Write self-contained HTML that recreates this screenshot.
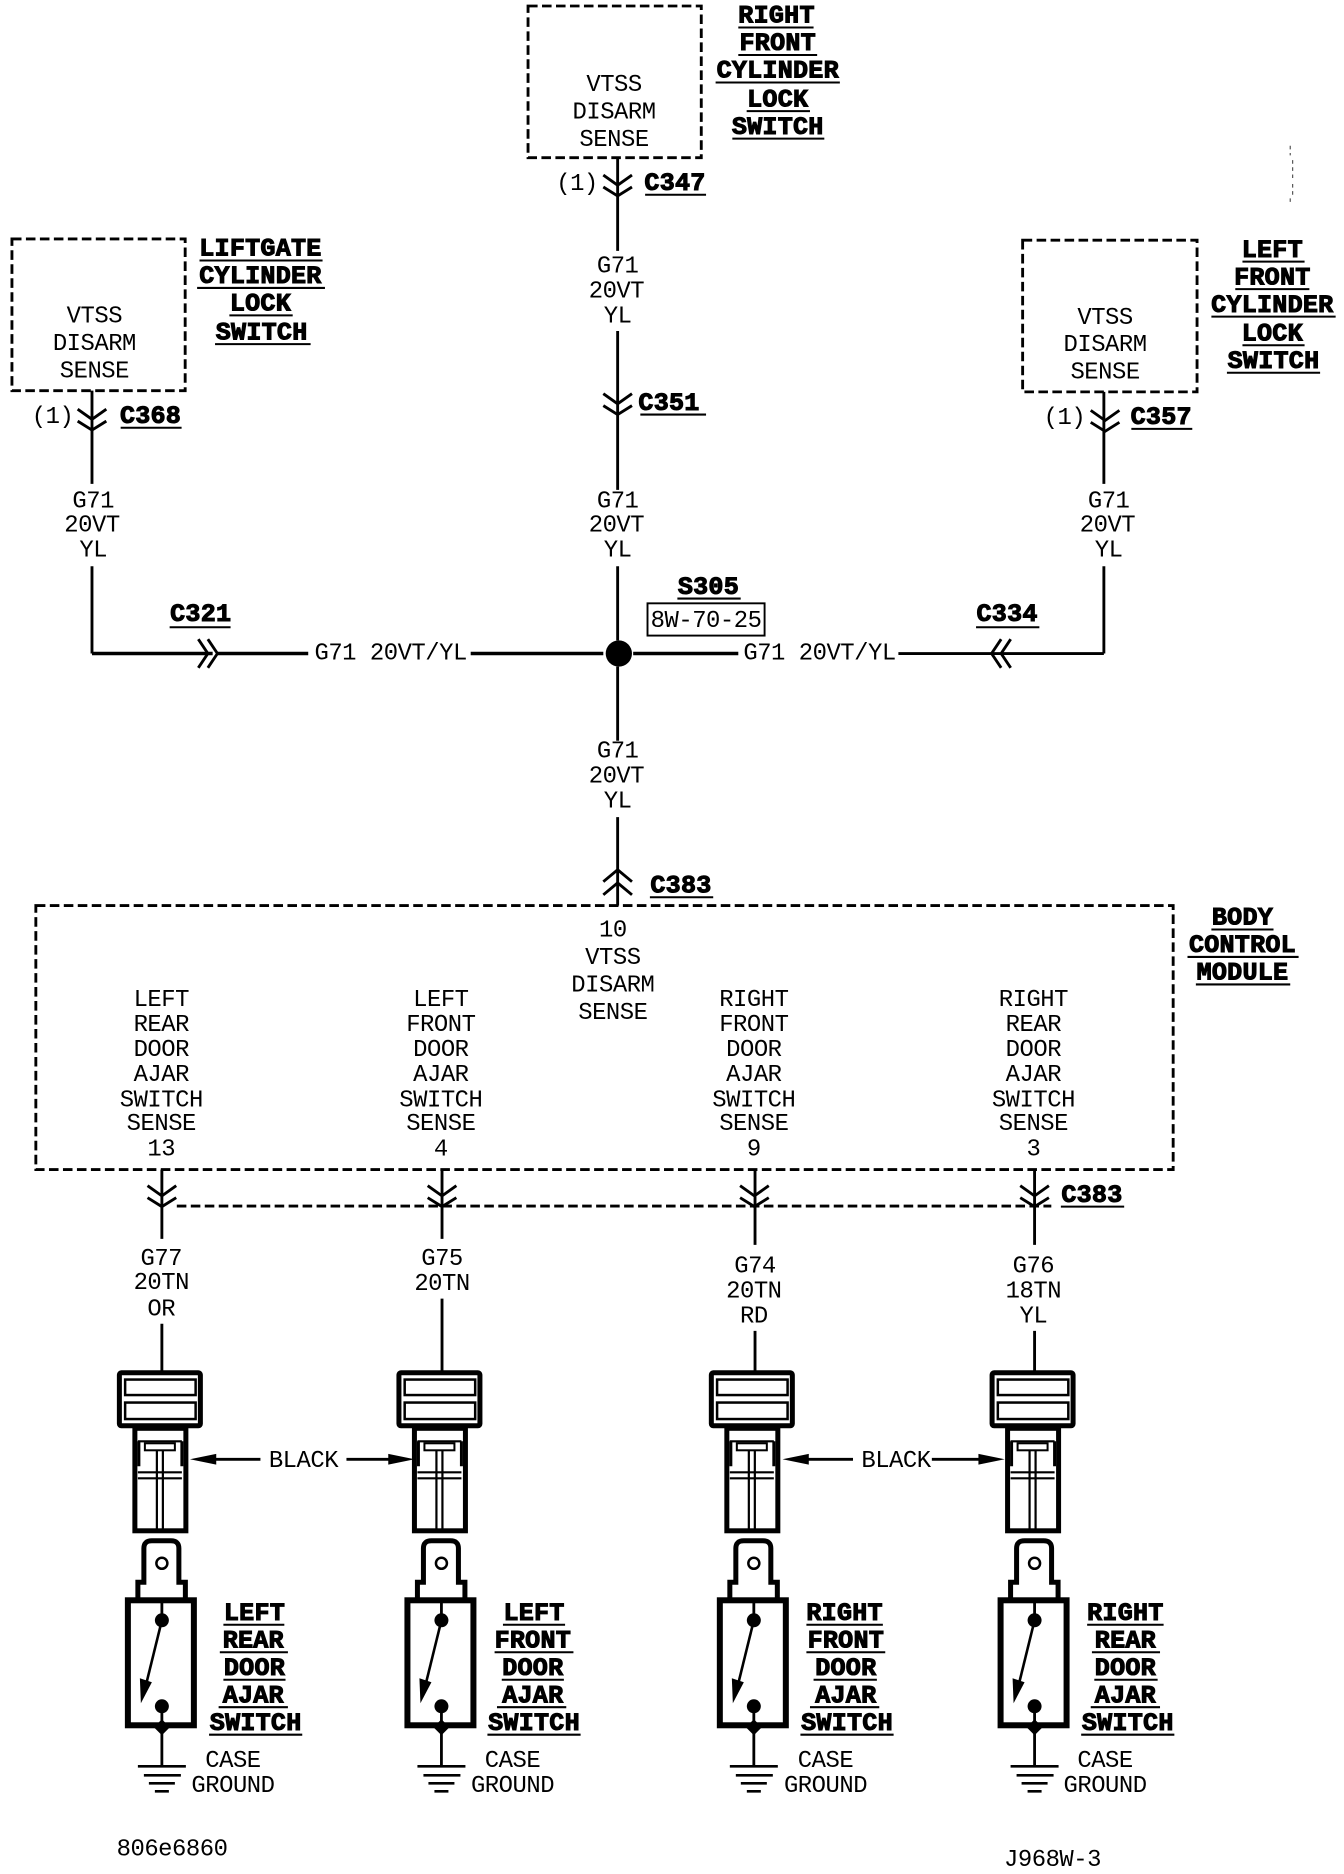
<!DOCTYPE html>
<html><head><meta charset="utf-8"><style>
html,body{margin:0;padding:0;background:#fff}
svg{display:block}
text{fill:#000;text-anchor:middle}
.t{font:20px "Liberation Mono",monospace;letter-spacing:-.4px}
.b{font:bold 21px "Liberation Mono",monospace;stroke:#000;stroke-width:.9px;letter-spacing:.2px}
.w{stroke:#000;stroke-width:2.4;fill:none}
.h{stroke:#000;stroke-width:3;fill:none}
.c{stroke:#000;stroke-width:2.4;fill:none}
.u{stroke:#000;stroke-width:1.7;fill:none}
.d{stroke:#000;stroke-width:2.4;fill:none;stroke-dasharray:8 3.7}
</style></head><body>
<svg width="1344" height="1874" viewBox="0 0 1125 1568.6" xmlns="http://www.w3.org/2000/svg">
<defs>
<g id="chev"><path d="M-12 -7.5L0 1L12 -7.5M-12 2.5L0 10L12 2.5" class="c"/></g>
<g id="conn" transform="scale(.837)">
<rect x="-42.5" y="2.5" width="81" height="53" rx="2" fill="#fff" stroke="#000" stroke-width="5"/>
<rect x="-36.75" y="9.25" width="70.5" height="15.5" fill="#fff" stroke="#000" stroke-width="2.5"/>
<rect x="-36.75" y="32.25" width="70.5" height="16.5" fill="#fff" stroke="#000" stroke-width="2.5"/>
<rect x="-27" y="58" width="51" height="102.5" fill="#fff" stroke="#000" stroke-width="5"/>
<path d="M-24 71H20M-24 102H20M-24 108H20" fill="none" stroke="#000" stroke-width="2.2"/>
<rect x="-17" y="73" width="30" height="7" fill="#fff" stroke="#000" stroke-width="2"/>
<path d="M-5 80V160M1 80V160" fill="none" stroke="#000" stroke-width="2.2"/>
<path d="M-23 71V96M20 71V96" fill="none" stroke="#000" stroke-width="3"/>
<path d="M-24 228V212H-18V178Q-18 170.5 -10 170.5H9Q17 170.5 17 178V212H23.5V228" fill="#fff" stroke="#000" stroke-width="5"/>
<circle cx="0" cy="193" r="5.5" fill="#fff" stroke="#000" stroke-width="2.5"/>
<rect x="-34" y="230" width="66" height="125" fill="#fff" stroke="#000" stroke-width="6"/>
<path d="M0 230V250M0 336V395" fill="none" stroke="#000" stroke-width="2.8"/>
<circle cx="0" cy="250" r="7" fill="#000"/>
<circle cx="0" cy="336" r="7" fill="#000"/>
<path d="M0 357l-8 -8l8 -8l8 8l-8 8z" fill="#000" transform="translate(0,8)"/>
<path d="M0 250L-16 315" fill="none" stroke="#000" stroke-width="2.6"/>
<path d="M-21 333L-22 308L-10 312Z" fill="#000"/>
<path d="M-24 396H24M-18 405H19M-13 413H13M-7 421H7" stroke="#000" stroke-width="2.6" fill="none"/>
</g>
</defs>

<!-- boxes -->
<rect x="442" y="5" width="145" height="127" class="d"/>
<rect x="10" y="200" width="145" height="127" class="d"/>
<rect x="856" y="201" width="146" height="127" class="d"/>
<rect x="30" y="758" width="952" height="221" class="d"/>

<!-- upper text -->
<text class="t" x="514" y="76">VTSS</text><text class="t" x="514" y="99">DISARM</text><text class="t" x="514" y="122">SENSE</text>
<text class="t" x="79" y="270">VTSS</text><text class="t" x="79" y="293">DISARM</text><text class="t" x="79" y="316">SENSE</text>
<text class="t" x="925" y="271">VTSS</text><text class="t" x="925" y="294">DISARM</text><text class="t" x="925" y="317">SENSE</text>

<text class="b" x="650" y="19">RIGHT</text><text class="b" x="651" y="42">FRONT</text><text class="b" x="651" y="65">CYLINDER</text><text class="b" x="651" y="89">LOCK</text><text class="b" x="651" y="112">SWITCH</text>
<path class="u" d="M618 23H681M618 46H684M599 69H703M625 93H678M613 116H690"/>
<text class="b" x="218" y="214">LIFTGATE</text><text class="b" x="218" y="237">CYLINDER</text><text class="b" x="218" y="260">LOCK</text><text class="b" x="219" y="284">SWITCH</text>
<path class="u" d="M167 218H270M165 241H272M192 264H245M180 288H260"/>
<text class="b" x="1065" y="215">LEFT</text><text class="b" x="1065" y="238">FRONT</text><text class="b" x="1065" y="261">CYLINDER</text><text class="b" x="1065" y="285">LOCK</text><text class="b" x="1066" y="308">SWITCH</text>
<path class="u" d="M1040 219H1092M1034 242H1096M1014 265H1118M1040 289H1092M1027 312H1105"/>

<!-- central wire -->
<path class="w" d="M517 132V210M517 277V410M517 474V536M517 558V620M517 684V758"/>
<use href="#chev" x="517" y="154"/>
<use href="#chev" x="517" y="337"/>
<text class="t" x="483" y="159">(1)</text>
<text class="b" x="565" y="159">C347</text><path class="u" d="M540 163H591"/>
<text class="b" x="560" y="343">C351</text><path class="u" d="M536 347H591"/>
<text class="t" x="517" y="228">G71</text><text class="t" x="516" y="249">20VT</text><text class="t" x="517" y="270">YL</text>
<text class="t" x="517" y="425">G71</text><text class="t" x="516" y="445">20VT</text><text class="t" x="517" y="466">YL</text>

<!-- left wire -->
<path class="w" d="M77 327V405M77 474V547"/>
<use href="#chev" x="77" y="350"/>
<text class="t" x="44" y="354">(1)</text>
<text class="b" x="126" y="354">C368</text><path class="u" d="M101 358H152"/>
<text class="t" x="78" y="425">G71</text><text class="t" x="77" y="445">20VT</text><text class="t" x="78" y="466">YL</text>

<!-- right wire -->
<path class="w" d="M924 328V405M924 474V547"/>
<use href="#chev" x="925" y="351"/>
<text class="t" x="891" y="355">(1)</text>
<text class="b" x="972" y="355">C357</text><path class="u" d="M947 359H998"/>
<text class="t" x="928" y="425">G71</text><text class="t" x="927" y="445">20VT</text><text class="t" x="928" y="466">YL</text>

<!-- horizontal -->
<path class="h" d="M77 547H178M182 547H258M394 547H505M530 547H618"/>
<path class="w" d="M752 547H924"/>
<path class="c" d="M166 535L174 547L166 559M174 535L182 547L174 559"/>
<path class="c" d="M838 535L830 547L838 559M846 535L838 547L846 559"/>
<text class="t" x="327" y="552" xml:space="preserve">G71 20VT/YL</text>
<text class="t" x="686" y="552" xml:space="preserve">G71 20VT/YL</text>
<ellipse cx="518" cy="547" rx="11" ry="11" fill="#000"/>
<text class="b" x="168" y="520">C321</text><path class="u" d="M142 525H193"/>
<text class="b" x="843" y="520">C334</text><path class="u" d="M817 525H870"/>
<text class="b" x="593" y="497">S305</text><path class="u" d="M567 501H620"/>
<rect x="542" y="505" width="98" height="27" fill="#fff" stroke="#000" stroke-width="1.6"/>
<text class="t" x="591" y="525">8W-70-25</text>

<text class="t" x="517" y="634">G71</text><text class="t" x="516" y="655">20VT</text><text class="t" x="517" y="676">YL</text>
<path class="c" d="M505 738L517 728L529 738M505 749L517 739L529 749"/>
<text class="b" x="570" y="747">C383</text><path class="u" d="M544 751H597"/>

<!-- BCM text -->
<g transform="translate(0,1)">
<text class="t" x="513" y="783">10</text><text class="t" x="513" y="806">VTSS</text><text class="t" x="513" y="829">DISARM</text><text class="t" x="513" y="852">SENSE</text>
<text class="t" x="135" y="841">LEFT</text><text class="t" x="135" y="862">REAR</text><text class="t" x="135" y="883">DOOR</text><text class="t" x="135" y="904">AJAR</text><text class="t" x="135" y="925">SWITCH</text><text class="t" x="135" y="945">SENSE</text><text class="t" x="135" y="966">13</text>
<text class="t" x="369" y="841">LEFT</text><text class="t" x="369" y="862">FRONT</text><text class="t" x="369" y="883">DOOR</text><text class="t" x="369" y="904">AJAR</text><text class="t" x="369" y="925">SWITCH</text><text class="t" x="369" y="945">SENSE</text><text class="t" x="369" y="966">4</text>
<text class="t" x="631" y="841">RIGHT</text><text class="t" x="631" y="862">FRONT</text><text class="t" x="631" y="883">DOOR</text><text class="t" x="631" y="904">AJAR</text><text class="t" x="631" y="925">SWITCH</text><text class="t" x="631" y="945">SENSE</text><text class="t" x="631" y="966">9</text>
<text class="t" x="865" y="841">RIGHT</text><text class="t" x="865" y="862">REAR</text><text class="t" x="865" y="883">DOOR</text><text class="t" x="865" y="904">AJAR</text><text class="t" x="865" y="925">SWITCH</text><text class="t" x="865" y="945">SENSE</text><text class="t" x="865" y="966">3</text>
<text class="t" x="135" y="1058">G77</text><text class="t" x="135" y="1078">20TN</text><text class="t" x="135" y="1100">OR</text>
<text class="t" x="370" y="1058">G75</text><text class="t" x="370" y="1079">20TN</text>
<text class="t" x="632" y="1064">G74</text><text class="t" x="631" y="1085">20TN</text><text class="t" x="631" y="1106">RD</text>
<text class="t" x="865" y="1064">G76</text><text class="t" x="865" y="1085">18TN</text><text class="t" x="865" y="1106">YL</text>
<text class="t" x="254" y="1227">BLACK</text>
<text class="t" x="750" y="1227">BLACK</text>
<text class="t" x="195" y="1478">CASE</text><text class="t" x="195" y="1499">GROUND</text>
<text class="t" x="429" y="1478">CASE</text><text class="t" x="429" y="1499">GROUND</text>
<text class="t" x="691" y="1478">CASE</text><text class="t" x="691" y="1499">GROUND</text>
<text class="t" x="925" y="1478">CASE</text><text class="t" x="925" y="1499">GROUND</text>
<text class="t" x="144" y="1552">806e6860</text>
<text class="t" x="881" y="1561">J968W-3</text>
</g>

<text class="b" x="1040" y="774">BODY</text><text class="b" x="1040" y="797">CONTROL</text><text class="b" x="1040" y="820">MODULE</text>
<path class="u" d="M1014 778H1066M994 801H1087M1001 824H1080"/>

<!-- lower connectors -->
<path class="d" d="M148 1009.5H880"/>
<path class="w" d="M135.5 979V1037M135.5 1108V1148M370 979V1037M370 1087V1148M632 979V1042M632 1114V1148M866 979V1042M866 1114V1148"/>
<use href="#chev" x="135.5" y="1000"/>
<use href="#chev" x="370" y="1000"/>
<use href="#chev" x="631.5" y="1000"/>
<use href="#chev" x="866" y="1000"/>
<text class="b" x="914" y="1006">C383</text><path class="u" d="M888 1010H941"/>

<use href="#conn" x="135.5" y="1147"/>
<use href="#conn" x="369.5" y="1147"/>
<use href="#conn" x="631" y="1147"/>
<use href="#conn" x="866" y="1147"/>

<!-- BLACK arrows -->
<path class="w" d="M170 1221.5H218M290 1221.5H336"/>
<path d="M159 1221.5L181 1217V1226ZM347 1221.5L325 1217V1226Z" fill="#000"/>
<path class="w" d="M666 1221.5H714M780 1221.5H830"/>
<path d="M655 1221.5L677 1217V1226ZM841 1221.5L819 1217V1226Z" fill="#000"/>

<!-- switch labels -->
<text class="b" x="213" y="1356">LEFT</text><text class="b" x="212" y="1379">REAR</text><text class="b" x="213" y="1402">DOOR</text><text class="b" x="212" y="1425">AJAR</text><text class="b" x="214" y="1448">SWITCH</text>
<path class="u" d="M187 1360H238M184 1383H241M187 1406H239M183 1429H241M175 1452H253"/>
<text class="b" x="447" y="1356">LEFT</text><text class="b" x="446" y="1379">FRONT</text><text class="b" x="446" y="1402">DOOR</text><text class="b" x="446" y="1425">AJAR</text><text class="b" x="447" y="1448">SWITCH</text>
<path class="u" d="M421 1360H473M414 1383H480M420 1406H472M416 1429H474M408 1452H486"/>
<text class="b" x="707" y="1356">RIGHT</text><text class="b" x="708" y="1379">FRONT</text><text class="b" x="708" y="1402">DOOR</text><text class="b" x="708" y="1425">AJAR</text><text class="b" x="709" y="1448">SWITCH</text>
<path class="u" d="M675 1360H739M675 1383H741M681 1406H734M678 1429H736M670 1452H748"/>
<text class="b" x="942" y="1356">RIGHT</text><text class="b" x="942" y="1379">REAR</text><text class="b" x="942" y="1402">DOOR</text><text class="b" x="942" y="1425">AJAR</text><text class="b" x="944" y="1448">SWITCH</text>
<path class="u" d="M910 1360H974M914 1383H971M916 1406H969M913 1429H971M905 1452H983"/>

<path d="M1080 122V130M1082 134V150M1082 154V164M1080 166V172" stroke="#555" stroke-width="1" fill="none" stroke-dasharray="3 3"/>
</svg>
</body></html>
